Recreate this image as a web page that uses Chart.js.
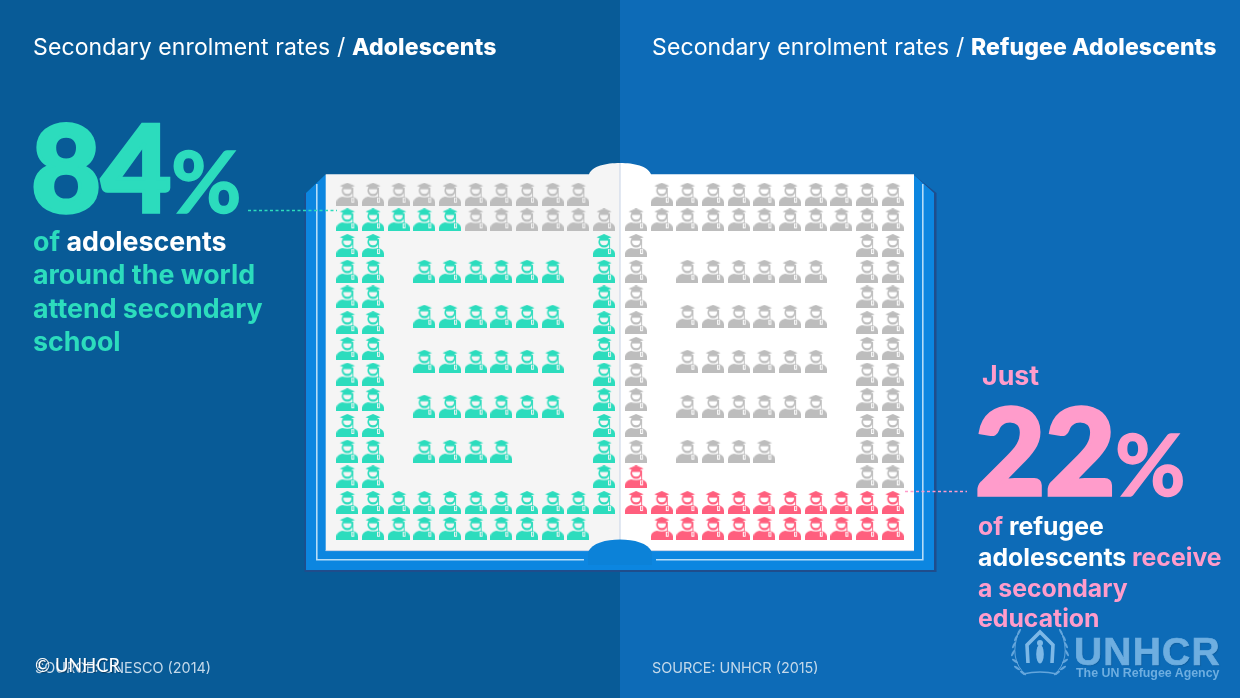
<!DOCTYPE html>
<html>
<head>
<meta charset="utf-8">
<script src="https://cdn.jsdelivr.net/npm/chart.js@4"></script>
<style>
  html, body { margin: 0; padding: 0; width: 1240px; height: 698px; overflow: hidden; background: #085b97; }
  #chart { position: absolute; left: 0; top: 0; }
  .t { position: absolute; white-space: nowrap; font-family: Inter, sans-serif; }
  .title { font-size: 23px; letter-spacing: 0.12px; color: #fff; font-weight: 400; top: 33px; }
  .title b { font-weight: 800; }
  .big { font-family: Lato, sans-serif; font-weight: 900; font-size: 121px; line-height: 122px; -webkit-text-stroke: 3.5px currentColor; }
  .pct { font-family: Lato, sans-serif; font-weight: 700; font-size: 86px; line-height: 86px; -webkit-text-stroke: 1.5px currentColor; }
  .teal { color: #2cdcbd; }
  .pink { color: #ff9ccb; }
  .line { font-weight: 700; font-size: 26.8px; }
  .line b { color: #fff; font-weight: 700; }
  .small { font-size: 24.8px; }
  .src { font-size: 14.4px; color: #c4d9ea; top: 659px; }
</style>
</head>
<body>
<canvas id="chart" width="1240" height="698"></canvas>

<div class="t title" style="left:33px">Secondary enrolment rates / <b>Adolescents</b></div>
<div class="t title" style="left:652px">Secondary enrolment rates / <b>Refugee Adolescents</b></div>

<div class="t big teal" style="left:31px;top:105px">84</div>
<div class="t pct teal" style="left:171px;top:137px">%</div>
<div class="t line teal" style="left:33px;top:225px"><span>of</span> <b>adolescents</b></div>
<div class="t line teal" style="left:33px;top:258px">around the world</div>
<div class="t line teal" style="left:33px;top:292px">attend secondary</div>
<div class="t line teal" style="left:33px;top:325px">school</div>

<div class="t line pink" style="left:982px;top:359px">Just</div>
<div class="t big pink" style="left:975px;top:388px">22</div>
<div class="t pct pink" style="left:1115px;top:420px">%</div>
<div class="t line pink small" style="left:978px;top:511px">of <b>refugee</b></div>
<div class="t line pink small" style="left:978px;top:542px"><b>adolescents</b> receive</div>
<div class="t line pink small" style="left:978px;top:573px">a secondary</div>
<div class="t line pink small" style="left:978px;top:603px">education</div>

<div class="t src" style="left:35px">SOURCE: UNESCO (2014)</div>
<div class="t src" style="left:652px">SOURCE: UNHCR (2015)</div>
<div class="t" style="left:35px;top:654px;font-family:Lato;font-size:18.3px;color:#fff;text-shadow:1px 1px 1px #0a3a60">© UNHCR</div>
<div class="t" style="left:1074px;top:630px;font-family:'Liberation Sans';font-weight:700;font-size:39px;letter-spacing:1.2px;color:#6eaee0;-webkit-text-stroke:0.7px #6eaee0;text-shadow:1px 1px 1px #0d5c9c">UNHCR</div>
<div class="t" style="left:1076px;top:666px;font-family:'Liberation Sans';font-size:12.4px;font-weight:700;color:#6eaee0">The UN Refugee Agency</div>

<script>
// Row and column slots of the pictogram (100 people on each page)
const topRow = 0, secondRow = 1, lastRow = 13, nearLastRow = 12;
const sideRows = [2, 3, 4, 5, 6, 7, 8, 9, 10, 11];
const innerRows = [3, 4.75, 6.5, 8.25];
const innerLastRow = 10;

const leftCols = [0, 1, 2, 3, 4, 5, 6, 7, 8, 9, 10];
const rightCols = [11.25, 12.25, 13.25, 14.25, 15.25, 16.25, 17.25, 18.25, 19.25, 20.25, 21.25];

const tealColor = '#2cdcbd';
const greyColor = '#bdbdbd';
const pinkColor = '#ff5f7e';

// Left page is read from the bottom row up to the top: who is not enrolled is grey
function leftPage() {
  const enrolled = [], missing = [];
  const c = leftCols;
  c.slice(0, 10).forEach(x => missing.push({ x, y: topRow }));
  c.slice(0, 5).forEach(x => enrolled.push({ x, y: secondRow }));
  c.slice(5).forEach(x => missing.push({ x, y: secondRow }));
  sideRows.forEach(y => [c[0], c[1], c[10]].forEach(x => enrolled.push({ x, y })));
  innerRows.forEach(y => c.slice(3, 9).forEach(x => enrolled.push({ x, y })));
  c.slice(3, 7).forEach(x => enrolled.push({ x, y: innerLastRow }));
  c.forEach(x => enrolled.push({ x, y: nearLastRow }));
  c.slice(0, 10).forEach(x => enrolled.push({ x, y: lastRow }));
  return { enrolled, missing };
}

function rightPage() {
  const enrolled = [], missing = [];
  const c = rightCols;
  c.slice(1).forEach(x => missing.push({ x, y: topRow }));
  c.forEach(x => missing.push({ x, y: secondRow }));
  sideRows.forEach(y => [c[0], c[9], c[10]].forEach(x => {
    if (y === 11 && x === c[0]) enrolled.push({ x, y });
    else missing.push({ x, y });
  }));
  innerRows.forEach(y => c.slice(2, 8).forEach(x => missing.push({ x, y })));
  c.slice(2, 6).forEach(x => missing.push({ x, y: innerLastRow }));
  c.forEach(x => enrolled.push({ x, y: nearLastRow }));
  c.slice(1).forEach(x => enrolled.push({ x, y: lastRow }));
  return { enrolled, missing };
}

// Student with a mortarboard, used as the point style
function makeStudent(color) {
  const s = document.createElement('canvas');
  s.width = 22; s.height = 23;
  const g = s.getContext('2d');
  g.fillStyle = color;
  // shoulders
  g.beginPath();
  g.moveTo(0, 23);
  g.lineTo(0, 19.5);
  g.quadraticCurveTo(0.5, 15, 6, 14);
  g.quadraticCurveTo(11, 15.5, 16, 14);
  g.quadraticCurveTo(21.5, 15, 22, 19.5);
  g.lineTo(22, 23);
  g.closePath();
  g.fill();
  // face crescent
  g.beginPath();
  g.arc(11, 8, 5.6, 0, Math.PI * 2);
  g.fill();
  g.globalCompositeOperation = 'destination-out';
  g.beginPath();
  g.arc(11, 7.2, 4, 0, Math.PI * 2);
  g.fill();
  // tassel sits in a small gap on the chest
  g.fillRect(15, 15, 2.8, 5);
  g.globalCompositeOperation = 'source-over';
  g.fillRect(16, 5, 0.9, 10);
  g.fillRect(16, 15.5, 0.9, 3.5);
  // cap
  g.beginPath();
  g.moveTo(11, 0);
  g.lineTo(18.5, 3.2);
  g.lineTo(11, 6);
  g.lineTo(3.5, 3.2);
  g.closePath();
  g.fill();
  g.fillRect(6.8, 3.8, 8.4, 2.8);
  return s;
}

function drawBook(g) {
  // dark edge shows only on the right and the bottom of the cover
  g.fillStyle = '#1f4d8c';
  g.beginPath();
  g.moveTo(304.5, 193); g.lineTo(306, 193); g.lineTo(914, 175); g.lineTo(936.5, 193);
  g.lineTo(936.5, 572); g.lineTo(304.5, 572);
  g.closePath(); g.fill();
  g.fillStyle = '#0c86e0';
  g.beginPath();
  g.moveTo(306, 193); g.lineTo(325, 175); g.lineTo(914, 175); g.lineTo(934, 193);
  g.lineTo(934, 570); g.lineTo(306, 570);
  g.closePath(); g.fill();
  // light rule on the cover
  g.strokeStyle = '#b5dcf7';
  g.lineWidth = 1.6;
  g.beginPath();
  g.moveTo(316.8, 184); g.lineTo(316.8, 559.8); g.lineTo(584, 559.8);
  g.moveTo(656, 559.8); g.lineTo(922.8, 559.8); g.lineTo(922.8, 184);
  g.stroke();
  // pages
  g.fillStyle = '#f5f5f5';
  g.beginPath();
  g.moveTo(325.7, 174.3); g.lineTo(589, 174.3);
  g.bezierCurveTo(592, 166, 606, 163, 620, 163);
  g.lineTo(620, 551); g.lineTo(325.7, 551);
  g.closePath(); g.fill();
  g.fillStyle = '#ffffff';
  g.beginPath();
  g.moveTo(620, 163);
  g.bezierCurveTo(634, 163, 648, 166, 651, 174.3);
  g.lineTo(914, 174.3); g.lineTo(914, 551); g.lineTo(620, 551);
  g.closePath(); g.fill();
  g.strokeStyle = '#c6d2e6';
  g.lineWidth = 1;
  g.beginPath();
  g.moveTo(620, 163); g.lineTo(620, 545);
  g.moveTo(325.7, 550.6); g.lineTo(914, 550.6);
  g.stroke();
  // spine tab at the bottom
  g.fillStyle = '#0c82d8';
  g.beginPath();
  g.moveTo(588, 552);
  g.bezierCurveTo(592, 543, 606, 539.5, 620, 539.5);
  g.bezierCurveTo(634, 539.5, 648, 543, 652, 552);
  g.lineTo(652, 565); g.lineTo(588, 565);
  g.closePath(); g.fill();
}

function drawLeaders(g) {
  g.lineWidth = 1.4;
  g.setLineDash([3, 2.5]);
  g.strokeStyle = tealColor;
  g.beginPath(); g.moveTo(248, 210.5); g.lineTo(337, 210.5); g.stroke();
  g.strokeStyle = '#ff9ccb';
  g.beginPath(); g.moveTo(905, 491.5); g.lineTo(967, 491.5); g.stroke();
  g.setLineDash([]);
}

function drawEmblem(g) {
  const cx = 1040, cy = 653;
  g.save();
  g.strokeStyle = g.fillStyle = '#64a6dc';
  // wreath
  [-1, 1].forEach(side => {
    g.lineWidth = 1;
    g.beginPath();
    g.moveTo(cx + side * 14, cy + 22);
    g.quadraticCurveTo(cx + side * 32, cy + 6, cx + side * 21, cy - 22);
    g.stroke();
    [[17, 20], [23, 15], [25, 8], [27, 0], [26, -8], [24, -15], [21, -21]].forEach(p => {
      g.beginPath();
      g.ellipse(cx + side * p[0], cy + p[1], 3.6, 1.1, side * (p[1] > 0 ? -0.6 : 1.1), 0, Math.PI * 2);
      g.fill();
    });
  });
  g.lineWidth = 1.6;
  g.beginPath(); g.moveTo(cx - 17, cy + 21); g.quadraticCurveTo(cx, cy + 17, cx + 17, cy + 21); g.stroke();
  // sheltering hands
  g.strokeStyle = '#7db8e6';
  g.lineWidth = 3.6;
  g.beginPath(); g.moveTo(cx - 12, cy + 10); g.lineTo(cx - 13, cy - 8); g.lineTo(cx, cy - 21); g.lineTo(cx + 13, cy - 8); g.lineTo(cx + 12, cy + 10); g.stroke();
  // person
  g.fillStyle = '#7db8e6';
  g.beginPath(); g.arc(cx, cy - 10, 3, 0, Math.PI * 2); g.fill();
  g.beginPath(); g.ellipse(cx, cy + 1, 3.8, 9.5, 0, 0, Math.PI * 2); g.fill();
  g.restore();
}

const bookBackground = {
  id: 'bookBackground',
  beforeDatasetsDraw(chart) {
    const g = chart.ctx;
    g.save();
    g.fillStyle = '#085b97';
    g.fillRect(0, 0, 620, 698);
    g.fillStyle = '#0d6bb7';
    g.fillRect(620, 0, 620, 698);
    drawBook(g);
    drawLeaders(g);
    drawEmblem(g);
    g.restore();
  }
};

const left = leftPage();
const right = rightPage();

function pointSet(label, data, color) {
  return { label, data, pointStyle: makeStudent(color), pointRadius: 11, pointHoverRadius: 11, showLine: false, clip: false };
}

new Chart(document.getElementById('chart'), {
  type: 'scatter',
  data: {
    datasets: [
      pointSet('Adolescents enrolled', left.enrolled, tealColor),
      pointSet('Adolescents not enrolled', left.missing, greyColor),
      pointSet('Refugee adolescents not enrolled', right.missing, greyColor),
      pointSet('Refugee adolescents enrolled', right.enrolled, pinkColor)
    ]
  },
  options: {
    responsive: false,
    animation: false,
    events: [],
    layout: { padding: { left: 334.5, right: 334.4, top: 181.3, bottom: 156.9 } },
    plugins: { legend: { display: false }, tooltip: { enabled: false } },
    scales: {
      x: { type: 'linear', display: false, min: -0.5, max: 21.75 },
      y: { type: 'linear', display: false, min: -0.5, max: 13.5, reverse: true }
    }
  },
  plugins: [bookBackground]
});
</script>
</body>
</html>
